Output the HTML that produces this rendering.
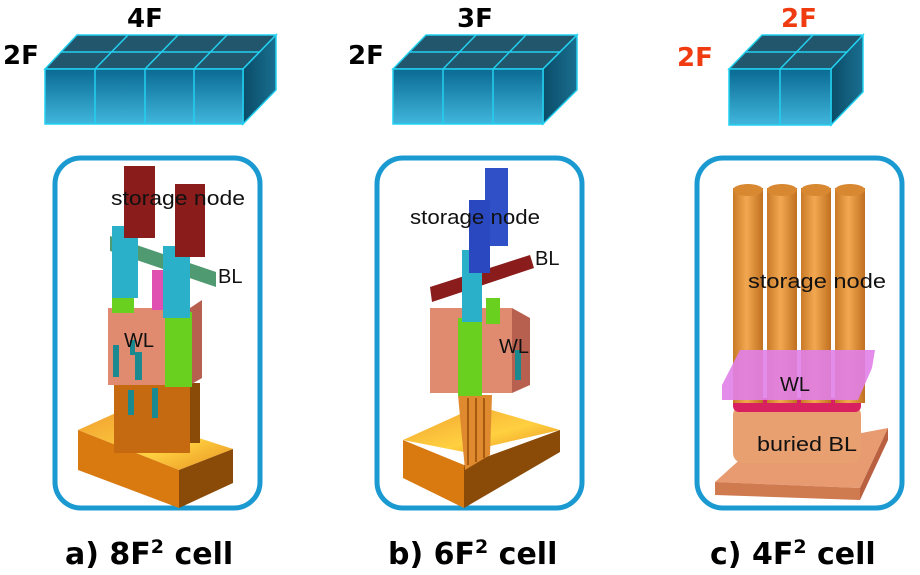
<!DOCTYPE html>
<html><head><meta charset="utf-8"><style>
html,body{margin:0;padding:0;background:#fff;}
svg{display:block;}
text{font-family:"DejaVu Sans","Liberation Sans",sans-serif;}
.lab{font-family:"Liberation Sans",Arial,sans-serif;font-size:20px;fill:#111;}
</style></head><body>
<svg width="920" height="575" viewBox="0 0 920 575" xmlns="http://www.w3.org/2000/svg">
<defs>
<linearGradient id="ff" x1="0" y1="0" x2="0" y2="1"><stop offset="0" stop-color="#0a6a93"/><stop offset="1" stop-color="#40b6dc"/></linearGradient>
<linearGradient id="sd" x1="0" y1="0" x2="1" y2="0"><stop offset="0" stop-color="#0a4c68"/><stop offset="1" stop-color="#1a6f90"/></linearGradient>
<linearGradient id="og" x1="0" y1="0" x2="1" y2="1"><stop offset="0" stop-color="#f0a030"/><stop offset=".6" stop-color="#ffd040"/><stop offset="1" stop-color="#e89020"/></linearGradient>
<linearGradient id="cyl" x1="0" y1="0" x2="1" y2="0"><stop offset="0" stop-color="#c97a28"/><stop offset=".45" stop-color="#f2a850"/><stop offset="1" stop-color="#c07020"/></linearGradient>
</defs>

<g stroke="#22d0f0" stroke-width="1.5">
 <polygon points="45,69 77,35 276,35 243,69" fill="#22566c"/>
 <polygon points="243,69 276,35 276,90 243,124" fill="url(#sd)"/>
 <rect x="45" y="69" width="198" height="55" fill="url(#ff)"/>
 <line x1="61" y1="52" x2="260" y2="52"/>
 <line x1="95" y1="69" x2="128" y2="35"/><line x1="145" y1="69" x2="178" y2="35"/><line x1="194" y1="69" x2="227" y2="35"/>
 <line x1="95" y1="69" x2="95" y2="124"/><line x1="145" y1="69" x2="145" y2="124"/><line x1="194" y1="69" x2="194" y2="124"/>
 <polygon points="393,69 426,35 577,35 543,69" fill="#22566c"/>
 <polygon points="543,69 577,35 577,90 543,124" fill="url(#sd)"/>
 <rect x="393" y="69" width="150" height="55" fill="url(#ff)"/>
 <line x1="410" y1="52" x2="560" y2="52"/>
 <line x1="443" y1="69" x2="476" y2="35"/><line x1="493" y1="69" x2="526" y2="35"/>
 <line x1="443" y1="69" x2="443" y2="124"/><line x1="493" y1="69" x2="493" y2="124"/>
 <polygon points="729,69 762,35 863,35 831,69" fill="#22566c"/>
 <polygon points="831,69 863,35 863,92 831,125" fill="url(#sd)"/>
 <rect x="729" y="69" width="102" height="56" fill="url(#ff)"/>
 <line x1="746" y1="52" x2="847" y2="52"/>
 <line x1="780" y1="69" x2="813" y2="35"/>
 <line x1="780" y1="69" x2="780" y2="125"/>
</g>
<g font-weight="bold" font-size="26">
 <text x="127" y="27">4F</text>
 <text x="3" y="64">2F</text>
 <text x="348" y="64">2F</text>
 <text x="457" y="27">3F</text>
 <text x="677" y="66" fill="#f03a10">2F</text>
 <text x="781" y="27" fill="#f03a10">2F</text>
</g>

<g fill="none" stroke="#1b9ad2" stroke-width="5">
 <rect x="55" y="158" width="205" height="350" rx="26"/>
 <rect x="377" y="158" width="205" height="350" rx="26"/>
 <rect x="697" y="158" width="205" height="350" rx="26"/>
</g>

<!-- Panel a -->
<polygon points="78,430 118,412 233,449 179,470" fill="url(#og)"/>
<polygon points="78,430 179,470 179,508 78,470" fill="#d87a10"/>
<polygon points="179,470 233,449 233,483 179,508" fill="#8a4a08"/>
<rect x="114" y="383" width="76" height="70" fill="#c56a10"/>
<rect x="190" y="383" width="10" height="60" fill="#8a4a08"/>
<rect x="108" y="308" width="82" height="77" fill="#e08a70"/>
<polygon points="190,308 202,300 202,378 190,385" fill="#b86050"/>
<rect x="165" y="312" width="27" height="75" fill="#6ad020"/>
<rect x="112" y="295" width="22" height="18" fill="#6ad020"/>
<g fill="#1a8a90"><rect x="113" y="345" width="6" height="32"/><rect x="135" y="352" width="7" height="28"/><rect x="128" y="390" width="6" height="25"/><rect x="152" y="388" width="6" height="30"/><rect x="130" y="340" width="5" height="15"/></g>
<polygon points="110,236 216,272 216,287 110,251" fill="#4f9a70"/>
<rect x="152" y="270" width="11" height="40" fill="#e050b0"/>
<rect x="112" y="226" width="26" height="72" fill="#2ab0c8"/>
<rect x="163" y="246" width="27" height="72" fill="#2ab0c8"/>
<rect x="124" y="166" width="31" height="72" fill="#8a1c1c"/>
<rect x="175" y="184" width="30" height="73" fill="#8a1c1c"/>
<text class="lab" x="111" y="205" textLength="134" lengthAdjust="spacingAndGlyphs">storage node</text>
<text class="lab" x="218" y="283">BL</text>
<text class="lab" x="124" y="347">WL</text>

<!-- Panel b -->
<polygon points="403,440 478,406 560,430 464,452" fill="url(#og)"/>
<polygon points="403,440 464,465 464,508 403,478" fill="#d87a10"/>
<polygon points="464,465 560,430 560,452 464,508" fill="#8a4a08"/>
<polygon points="458,395 492,395 490,455 465,470" fill="#e08a30"/>
<g stroke="#a85a10" stroke-width="2"><line x1="468" y1="398" x2="468" y2="465"/><line x1="476" y1="398" x2="476" y2="462"/><line x1="484" y1="398" x2="484" y2="458"/></g>
<rect x="430" y="308" width="82" height="85" fill="#e08a70"/>
<polygon points="512,308 530,318 530,385 512,393" fill="#b86050"/>
<rect x="458" y="318" width="24" height="78" fill="#6ad020"/>
<rect x="486" y="298" width="14" height="26" fill="#6ad020"/>
<rect x="515" y="350" width="6" height="30" fill="#1a8a90"/>
<polygon points="430,287 530,255 534,268 432,302" fill="#8a1c1c"/>
<rect x="462" y="250" width="20" height="72" fill="#2ab0c8"/>
<rect x="485" y="168" width="23" height="78" fill="#3050c8"/>
<rect x="469" y="200" width="21" height="73" fill="#2a48c0"/>
<text class="lab" x="410" y="224" textLength="130" lengthAdjust="spacingAndGlyphs">storage node</text>
<text class="lab" x="535" y="265">BL</text>
<text class="lab" x="499" y="353">WL</text>

<!-- Panel c -->
<polygon points="715,482 745,455 888,428 860,488" fill="#e89a70"/>
<polygon points="715,482 860,488 860,500 715,495" fill="#d07a50"/>
<polygon points="860,488 888,428 888,440 860,500" fill="#b86040"/>
<rect x="733" y="405" width="128" height="58" rx="10" fill="#e8a070"/>
<rect x="733" y="398" width="128" height="14" rx="6" fill="#d82060"/>
<g fill="url(#cyl)">
 <rect x="733" y="188" width="30" height="215"/><rect x="767" y="188" width="30" height="215"/><rect x="801" y="188" width="30" height="215"/><rect x="835" y="188" width="30" height="215"/>
</g>
<g fill="#d88830"><ellipse cx="748" cy="190" rx="15" ry="6"/><ellipse cx="782" cy="190" rx="15" ry="6"/><ellipse cx="816" cy="190" rx="15" ry="6"/><ellipse cx="850" cy="190" rx="15" ry="6"/></g>
<polygon points="722,385 740,350 875,350 872,368 858,400 722,400" fill="#e080e8" opacity=".9"/>
<text class="lab" x="748" y="288" textLength="138" lengthAdjust="spacingAndGlyphs">storage node</text>
<text class="lab" x="780" y="391">WL</text>
<text class="lab" x="757" y="451" textLength="100" lengthAdjust="spacingAndGlyphs">buried BL</text>

<!-- Captions -->
<g font-weight="bold" font-size="30">
 <text x="65" y="564">a) 8F<tspan font-size="19" dy="-11">2</tspan><tspan dy="11"> cell</tspan></text>
 <text x="388" y="564">b) 6F<tspan font-size="19" dy="-11">2</tspan><tspan dy="11"> cell</tspan></text>
 <text x="710" y="564">c) 4F<tspan font-size="19" dy="-11">2</tspan><tspan dy="11"> cell</tspan></text>
</g>
</svg>
</body></html>
